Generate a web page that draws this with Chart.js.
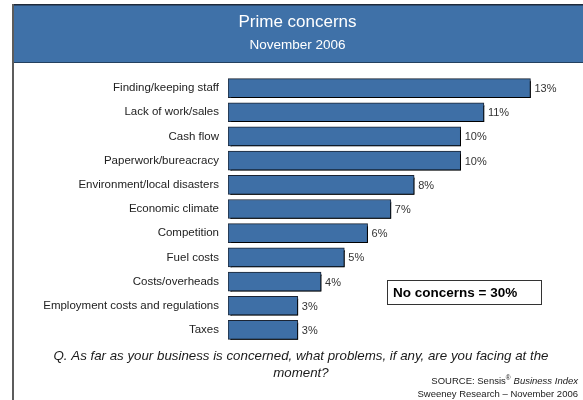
<!DOCTYPE html>
<html>
<head>
<meta charset="utf-8">
<script src="https://cdn.jsdelivr.net/npm/chart.js@4.4.1/dist/chart.umd.min.js"></script>
<style>
  html, body { margin: 0; padding: 0; background: #ffffff; }
  #wrap { position: relative; width: 583px; height: 400px; }
</style>
</head>
<body>
<div id="wrap"><canvas id="chart"></canvas></div>
<script>
// Survey categories and the share of businesses naming each one (%)
const categories = [
  'Finding/keeping staff',
  'Lack of work/sales',
  'Cash flow',
  'Paperwork/bureacracy',
  'Environment/local disasters',
  'Economic climate',
  'Competition',
  'Fuel costs',
  'Costs/overheads',
  'Employment costs and regulations',
  'Taxes'
];
const concernShares = [13, 11, 10, 10, 8, 7, 6, 5, 4, 3, 3];
const noConcernsShare = 30;

const titleLines = ['Prime concerns', 'November 2006'];
const questionLines = [
  'Q. As far as your business is concerned, what problems, if any, are you facing at the',
  'moment?'
];

const FONT = '"Liberation Sans", "DejaVu Sans", sans-serif';
const BAR_BLUE = '#3e6fa6';

// Header band, frame line, question text and source note
const framePlugin = {
  id: 'frame',
  beforeDraw(chart) {
    const ctx = chart.ctx;
    ctx.save();
    ctx.fillStyle = '#ffffff';
    ctx.fillRect(0, 0, chart.width, chart.height);
    // header band
    ctx.fillStyle = '#3f71a8';
    ctx.fillRect(12, 4, chart.width - 12, 59);
    ctx.fillStyle = '#1f2a3a';
    ctx.fillRect(12, 4, chart.width - 12, 1.5);
    ctx.fillStyle = '#24405f';
    ctx.fillRect(12, 62, chart.width - 12, 1);
    // left frame line
    ctx.fillStyle = '#5c5c5c';
    ctx.fillRect(12, 4, 2, chart.height - 4);

    const cx = (12 + chart.width) / 2;
    ctx.fillStyle = '#ffffff';
    ctx.textAlign = 'center';
    ctx.textBaseline = 'middle';
    ctx.font = '17px ' + FONT;
    ctx.fillText(titleLines[0], cx, 22);
    ctx.font = '13.5px ' + FONT;
    ctx.fillText(titleLines[1], cx, 45);
    ctx.restore();
  },
  afterDraw(chart) {
    const ctx = chart.ctx;
    ctx.save();
    ctx.fillStyle = '#1a1a1a';
    ctx.textAlign = 'center';
    ctx.textBaseline = 'middle';
    ctx.font = 'italic 13.3px ' + FONT;
    ctx.fillText(questionLines[0], 301, 356);
    ctx.fillText(questionLines[1], 301, 373);

    // source note, right aligned
    ctx.textAlign = 'right';
    ctx.font = 'italic 9.5px ' + FONT;
    const italicPart = 'Business Index';
    const wItalic = ctx.measureText(italicPart).width;
    ctx.fillText(italicPart, 578, 381);
    const reg = 'SOURCE: Sensis';
    const sup = '\u00AE';
    ctx.font = '6.5px ' + FONT;
    const wSup = ctx.measureText(sup).width;
    ctx.fillText(sup, 578 - wItalic - 3, 378);
    ctx.font = '9.5px ' + FONT;
    ctx.fillText(reg, 578 - wItalic - 3 - wSup, 381);
    ctx.fillText('Sweeney Research \u2013 November 2006', 578, 394);
    ctx.restore();
  }
};

// Hard drop shadow under each bar
const shadowPlugin = {
  id: 'barShadow',
  beforeDatasetsDraw(chart) {
    const ctx = chart.ctx;
    ctx.save();
    ctx.shadowColor = '#000000';
    ctx.shadowOffsetX = 2.5;
    ctx.shadowOffsetY = 2.5;
    ctx.shadowBlur = 0;
  },
  afterDatasetsDraw(chart) {
    chart.ctx.restore();
  }
};

// Percentage labels at bar ends and the "No concerns" box
const labelPlugin = {
  id: 'valueLabels',
  afterDatasetsDraw(chart) {
    const ctx = chart.ctx;
    const meta = chart.getDatasetMeta(0);
    ctx.save();
    ctx.fillStyle = '#333333';
    ctx.font = '11px ' + FONT;
    ctx.textAlign = 'left';
    ctx.textBaseline = 'middle';
    meta.data.forEach((bar, i) => {
      ctx.fillText(concernShares[i] + '%', bar.x + 4, bar.y + 1);
    });

    // note box
    const x = 387, y = 280, w = 154, h = 24;
    ctx.fillStyle = '#ffffff';
    ctx.fillRect(x, y, w, h);
    ctx.strokeStyle = '#333333';
    ctx.lineWidth = 1;
    ctx.strokeRect(x + 0.5, y + 0.5, w, h);
    ctx.fillStyle = '#000000';
    ctx.font = 'bold 13.5px ' + FONT;
    ctx.fillText('No concerns = ' + noConcernsShare + '%', x + 6, y + h / 2 + 1);
    ctx.restore();
  }
};

new Chart(document.getElementById('chart'), {
  type: 'bar',
  data: {
    labels: categories,
    datasets: [{
      data: concernShares,
      backgroundColor: BAR_BLUE,
      borderColor: '#1b2433',
      borderWidth: 1,
      borderSkipped: false,
      barThickness: 19
    }]
  },
  options: {
    indexAxis: 'y',
    responsive: true,
    maintainAspectRatio: false,
    animation: false,
    events: [],
    layout: { padding: { top: 76, bottom: 58, left: 0, right: 6 } },
    plugins: {
      legend: { display: false },
      tooltip: { enabled: false },
      title: { display: false }
    },
    scales: {
      x: {
        display: false,
        min: 0,
        max: 15
      },
      y: {
        afterFit(scale) { scale.width = 228; },
        grid: { display: false, drawTicks: false },
        border: { display: false },
        ticks: {
          padding: 9,
          color: '#222222',
          font: { family: FONT, size: 11.5 }
        }
      }
    }
  },
  plugins: [framePlugin, shadowPlugin, labelPlugin]
});
</script>
</body>
</html>
